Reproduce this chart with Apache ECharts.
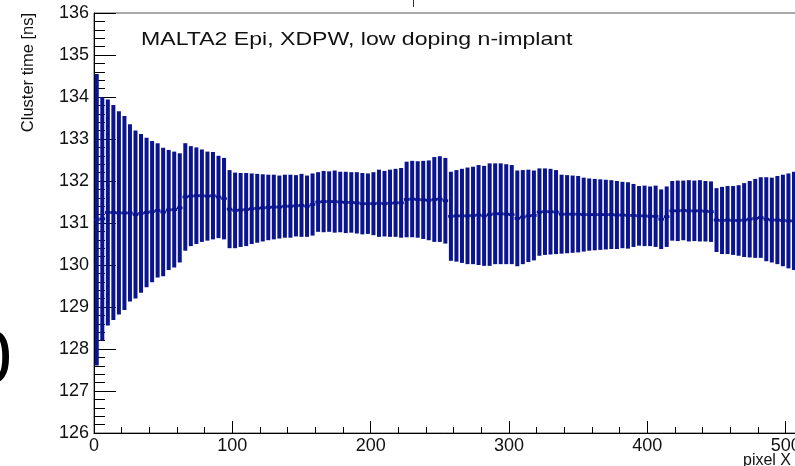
<!DOCTYPE html>
<html>
<head>
<meta charset="utf-8">
<script src="https://cdn.jsdelivr.net/npm/echarts@6/dist/echarts.min.js"></script>
<style>
  html, body { margin: 0; padding: 0; background: #fff; }
  #chart { width: 795px; height: 466px; }
</style>
</head>
<body>
<div id="chart"></div>
<script>
// Profile of mean cluster time per pixel-X bin (bin width 4 pixels, starting at 0)
const binStart = 0;
const binWidth = 4;

// Mean cluster time [ns] per bin
const meanTime = [
  131.08, 131.10, 131.25, 131.25, 131.24, 131.24, 131.24, 131.20, 131.23, 131.25,
  131.27, 131.30, 131.26, 131.31, 131.32, 131.36, 131.62, 131.64, 131.65, 131.65,
  131.64, 131.65, 131.62, 131.58, 131.33, 131.30, 131.31, 131.32, 131.34, 131.35,
  131.36, 131.37, 131.38, 131.38, 131.40, 131.40, 131.41, 131.42, 131.40, 131.44,
  131.50, 131.51, 131.51, 131.51, 131.50, 131.49, 131.49, 131.48, 131.46, 131.46,
  131.46, 131.47, 131.46, 131.47, 131.48, 131.48, 131.56, 131.57, 131.56, 131.55,
  131.54, 131.56, 131.57, 131.53, 131.16, 131.17, 131.17, 131.17, 131.18, 131.19,
  131.17, 131.20, 131.22, 131.22, 131.21, 131.20, 131.11, 131.14, 131.17, 131.18,
  131.26, 131.27, 131.27, 131.26, 131.21, 131.21, 131.21, 131.21, 131.20, 131.20,
  131.20, 131.20, 131.20, 131.20, 131.19, 131.19, 131.18, 131.18, 131.17, 131.17,
  131.16, 131.16, 131.09, 131.15, 131.29, 131.29, 131.30, 131.29, 131.29, 131.29,
  131.28, 131.27, 131.07, 131.06, 131.07, 131.06, 131.06, 131.07, 131.09, 131.11,
  131.13, 131.09, 131.07, 131.07, 131.06, 131.05, 131.05
];

// Error on the mean [ns] per bin
const errTime = [
  3.47, 2.90, 2.69, 2.56, 2.42, 2.31, 2.11, 2.00, 1.89, 1.78,
  1.68, 1.60, 1.53, 1.43, 1.38, 1.30, 1.28, 1.19, 1.15, 1.10,
  1.06, 1.04, 0.98, 0.97, 0.93, 0.90, 0.88, 0.87, 0.84, 0.82,
  0.80, 0.78, 0.77, 0.75, 0.75, 0.75, 0.73, 0.75, 0.73, 0.74,
  0.71, 0.73, 0.72, 0.74, 0.72, 0.73, 0.72, 0.73, 0.73, 0.72,
  0.75, 0.80, 0.78, 0.80, 0.81, 0.83, 0.90, 0.91, 0.91, 0.93,
  0.95, 1.01, 1.02, 1.02, 1.06, 1.09, 1.12, 1.15, 1.16, 1.19,
  1.19, 1.22, 1.20, 1.20, 1.19, 1.18, 1.14, 1.12, 1.10, 1.07,
  1.04, 1.03, 1.02, 1.00, 0.94, 0.93, 0.92, 0.91, 0.88, 0.86,
  0.85, 0.84, 0.83, 0.82, 0.81, 0.79, 0.79, 0.75, 0.71, 0.72,
  0.71, 0.73, 0.71, 0.72, 0.71, 0.72, 0.71, 0.73, 0.72, 0.73,
  0.72, 0.72, 0.76, 0.80, 0.81, 0.82, 0.84, 0.88, 0.91, 0.94,
  0.96, 1.00, 1.01, 1.05, 1.09, 1.13, 1.17
];

// Axis tick values
const xTicks = [0, 100, 200, 300, 400, 500, 600];
const yTicks = [126, 127, 128, 129, 130, 131, 132, 133, 134, 135, 136];

const titleText = 'MALTA2 Epi, XDPW, low doping n-implant';
const yTitle = 'Cluster time [ns]';
const xTitle = 'pixel X';

const markColor = '#0a148e';
const font = '"Liberation Sans", Arial, Helvetica, sans-serif';

const profileData = meanTime.map((m, i) => [binStart + binWidth * (i + 0.5), m, errTime[i]]);

// Each bin: a thick vertical error bar plus a horizontal segment spanning the bin at the mean
function renderErrorBar(params, api) {
  const x = api.value(0);
  const m = api.value(1);
  const e = api.value(2);
  const top = api.coord([x, m + e]);
  const bot = api.coord([x, m - e]);
  const l = api.coord([x - binWidth / 2, m]);
  const r = api.coord([x + binWidth / 2, m]);
  return {
    type: 'group',
    children: [
      { type: 'line', shape: { x1: top[0], y1: top[1], x2: bot[0], y2: bot[1] },
        style: { stroke: markColor, lineWidth: 4 } },
      { type: 'line', shape: { x1: l[0], y1: l[1], x2: r[0], y2: r[1] },
        style: { stroke: markColor, lineWidth: 2.8 } }
    ]
  };
}

const chart = echarts.init(document.getElementById('chart'), null, { renderer: 'canvas' });

chart.setOption({
  backgroundColor: '#ffffff',
  animation: false,
  grid: {
    left: 94, top: 13, width: 830, height: 420,
    outerBoundsMode: 'none', containLabel: false,
    show: true, borderColor: '#555', borderWidth: 1, backgroundColor: 'transparent'
  },
  xAxis: {
    type: 'value',
    min: xTicks[0], max: xTicks[xTicks.length - 1], interval: xTicks[1] - xTicks[0],
    axisLine: { show: true, lineStyle: { color: '#000', width: 1 } },
    axisTick: { show: true, inside: true, length: 12, lineStyle: { color: '#000' } },
    minorTick: { show: true, splitNumber: 5, length: 6, lineStyle: { color: '#000' } },
    axisLabel: { fontSize: 18, fontFamily: font, color: '#111', margin: 4, showMaxLabel: false },
    splitLine: { show: false }
  },
  yAxis: {
    type: 'value',
    min: yTicks[0], max: yTicks[yTicks.length - 1], interval: yTicks[1] - yTicks[0],
    axisLine: { show: true, lineStyle: { color: '#000', width: 1 } },
    axisTick: { show: true, inside: true, length: 22, lineStyle: { color: '#000' } },
    minorTick: { show: true, splitNumber: 5, length: 11, lineStyle: { color: '#000' } },
    axisLabel: { fontSize: 18, fontFamily: font, color: '#111', margin: 5 },
    splitLine: { show: false }
  },
  series: [{
    type: 'custom',
    renderItem: renderErrorBar,
    encode: { x: 0, y: 1 },
    data: profileData,
    clip: true,
    z: 3
  }],
  graphic: [
    { type: 'text', x: 141, y: 40, scaleX: 1.215,
      style: { text: titleText, font: '19px ' + font, fill: '#111', verticalAlign: 'middle', align: 'left' } },
    { type: 'text', x: 28, y: 13, rotation: Math.PI / 2,
      style: { text: yTitle, font: '16.5px ' + font, fill: '#111', align: 'right', verticalAlign: 'middle' } },
    { type: 'text', x: 743, y: 461,
      style: { text: xTitle, font: '16px ' + font, fill: '#111', align: 'left', verticalAlign: 'middle' } },
    { type: 'text', x: 12, y: 362,
      style: { text: '0', font: '76px ' + font, fill: '#000', align: 'right', verticalAlign: 'middle' } },
    { type: 'line', shape: { x1: 413.5, y1: 0, x2: 413.5, y2: 7 }, style: { stroke: '#333', lineWidth: 1 } }
  ]
});
</script>
</body>
</html>
